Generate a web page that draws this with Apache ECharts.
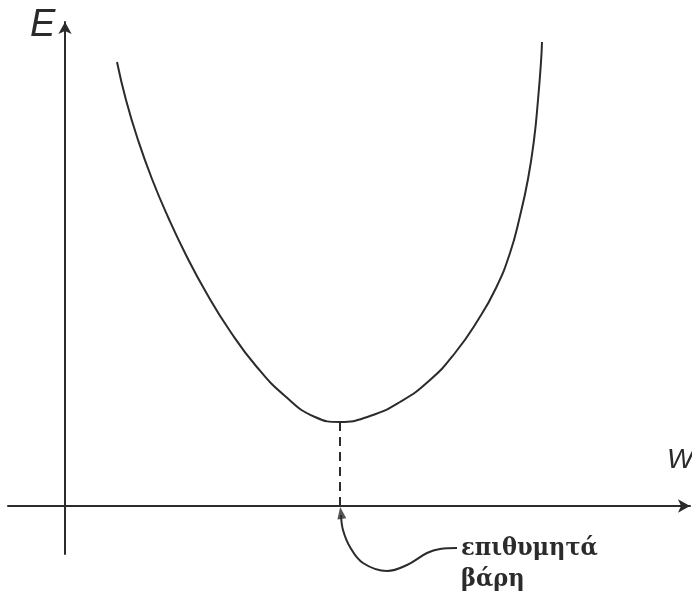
<!DOCTYPE html>
<html>
<head>
<meta charset="utf-8">
<script src="https://cdn.jsdelivr.net/npm/echarts@6/dist/echarts.min.js"></script>
<style>
  html, body { margin: 0; padding: 0; background: #fff; }
  #chart { width: 692px; height: 595px; }
</style>
</head>
<body>
<div id="chart"></div>
<script>
// error curve E(w) (w, E)
const curveW = [52, 61, 73, 87, 103, 121, 142, 165, 191, 220, 250, 275, 305, 335, 365, 390, 413, 431, 445, 455, 463, 469, 473, 476, 477];
const curveE = [444, 406, 366, 327, 289, 251, 212, 175, 140, 110, 89, 84, 90, 104, 126, 153, 186, 218, 253, 290, 327, 366, 406, 444, 464];
// minimum of the curve
const minW = 275;
const minE = 84;
// pointer from the label to the minimum on the w axis
const pointerW = [392, 375, 362, 342, 322, 298, 285, 278, 276];
const pointerE = [-42, -43, -47, -59, -65, -57, -41, -24, -9];
const labelLines = ['επιθυμητά', 'βάρη'];

const zip = (a, b) => a.map((v, i) => [v, b[i]]);

const chart = echarts.init(document.getElementById('chart'));
const ink = '#2b2b2b';

chart.setOption({
  animation: false,
  grid: { left: 8, right: 2, top: 22, bottom: 41 },
  xAxis: {
    type: 'value', min: -57, max: 625,
    axisLine: { onZero: true, symbol: ['none', 'arrow'], symbolSize: [10, 12], lineStyle: { color: ink, width: 2 } },
    axisTick: { show: false }, axisLabel: { show: false }, splitLine: { show: false }
  },
  yAxis: {
    type: 'value', min: -48, max: 484,
    axisLine: { onZero: true, symbol: ['none', 'arrow'], symbolSize: [10, 12], lineStyle: { color: ink, width: 2 } },
    axisTick: { show: false }, axisLabel: { show: false }, splitLine: { show: false }
  },
  series: [
    {
      type: 'line', smooth: 0.5, showSymbol: false,
      data: zip(curveW, curveE),
      lineStyle: { color: ink, width: 2 }
    },
    {
      type: 'line', showSymbol: false,
      data: [[minW, minE], [minW, 0]],
      lineStyle: { color: ink, width: 2, type: [9, 6] }
    },
    {
      type: 'line', smooth: 0.4, showSymbol: false, clip: false,
      data: zip(pointerW, pointerE),
      lineStyle: { color: ink, width: 2 }
    },
    {
      type: 'scatter', symbol: 'triangle', symbolSize: [9, 12], symbolRotate: 8, clip: false,
      data: [[minW + 1, -7]],
      itemStyle: { color: ink }
    }
  ],
  graphic: [
    { type: 'text', left: 30, top: 6, style: { text: 'E', font: 'italic 38px "Liberation Sans"', fill: ink } },
    { type: 'text', left: 667, top: 446, style: { text: 'W', font: 'italic 28px "Liberation Sans"', fill: ink } },
    { type: 'text', left: 461, top: 533, style: { text: labelLines.join('\n'), font: 'bold 25px "DejaVu Serif Condensed"', lineHeight: 31, fill: ink } }
  ]
});
</script>
</body>
</html>
